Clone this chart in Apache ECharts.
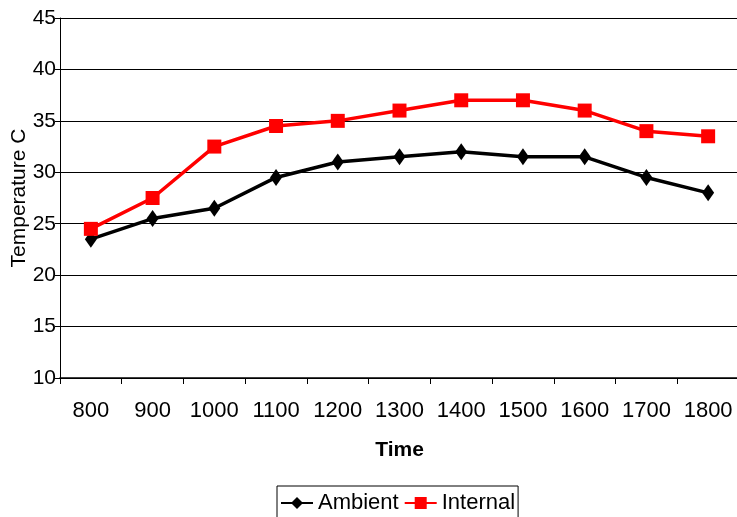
<!DOCTYPE html>
<html><head><meta charset="utf-8">
<script src="https://cdn.jsdelivr.net/npm/echarts@6/dist/echarts.min.js"></script>
<style>html,body{margin:0;padding:0;background:#fff}#c{width:737px;height:517px}</style>
</head><body><div id="c"></div>
<script>
const categories = ['800','900','1000','1100','1200','1300','1400','1500','1600','1700','1800'];
const ambient = [23.5,25.5,26.5,29.5,31,31.5,32,31.5,31.5,29.5,28];
const internal = [24.5,27.5,32.5,34.5,35,36,37,37,36,34,33.5];
const yTicks = {min:10, max:45, interval:5};
const font = '"Liberation Sans", Arial, sans-serif';
const chart = echarts.init(document.getElementById('c'), null, {renderer:'canvas'});
chart.setOption({
  animation:false,
  backgroundColor:'#fff',
  grid:{left:60, top:18, width:679, height:360, containLabel:false, outerBoundsMode:'none'},
  xAxis:{type:'category', data:categories, boundaryGap:true,
    name:'Time', nameLocation:'middle', nameGap:62, nameMoveOverlap:false,
    nameTextStyle:{fontFamily:font, fontSize:21, fontWeight:'bold', color:'#000'},
    axisLine:{lineStyle:{color:'#000', width:1.5}},
    axisTick:{show:true, length:6, alignWithLabel:false, lineStyle:{color:'#000'}},
    axisLabel:{fontFamily:font, fontSize:22, color:'#000', margin:22, interval:0},
    splitLine:{show:false}},
  yAxis:{type:'value', min:yTicks.min, max:yTicks.max, interval:yTicks.interval,
    name:'Temperature C', nameLocation:'middle', nameGap:30, nameRotate:90, nameMoveOverlap:false,
    nameTextStyle:{fontFamily:font, fontSize:21, color:'#000'},
    axisLine:{show:true, lineStyle:{color:'#000', width:1}},
    axisTick:{show:true, length:5, lineStyle:{color:'#000'}},
    axisLabel:{fontFamily:font, fontSize:21, color:'#000', margin:4},
    splitLine:{show:true, lineStyle:{color:'#000', width:1}}},
  legend:{top:486, left:277, orient:'horizontal',
    borderColor:'#000', borderWidth:1, padding:[6,3,10,3], itemGap:5,
    itemWidth:32, itemHeight:15,
    textStyle:{fontFamily:font, fontSize:22, color:'#000'},
    data:['Ambient','Internal']},
  series:[
    {name:'Ambient', type:'line', data:ambient, symbol:'diamond', symbolSize:[12,17],
     lineStyle:{color:'#000', width:3.5}, itemStyle:{color:'#000'}},
    {name:'Internal', type:'line', data:internal, symbol:'rect', symbolSize:14,
     lineStyle:{color:'#ff0000', width:3.5}, itemStyle:{color:'#ff0000'}}
  ]
});
</script></body></html>
